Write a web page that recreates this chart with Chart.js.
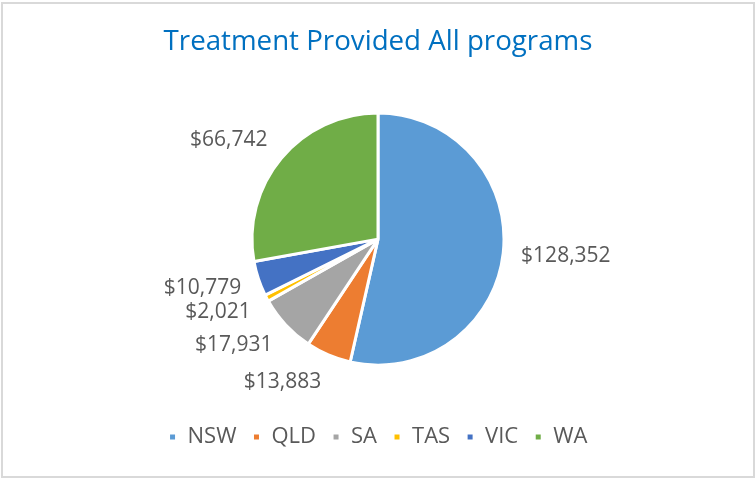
<!DOCTYPE html>
<html>
<head>
<meta charset="utf-8">
<script src="https://cdn.jsdelivr.net/npm/chart.js@4/dist/chart.umd.min.js"></script>
<style>
  body { margin: 0; background: #fff; }
  #quadro { position: relative; width: 756px; height: 479px; }
  #borda { position: absolute; left: 1px; top: 2px; width: 750px; height: 472px; border: 2px solid #d9d9d9; }
  #grafico { position: absolute; left: 0; top: 0; }
</style>
</head>
<body>
<div id="quadro">
  <div id="borda"></div>
  <canvas id="grafico" width="756" height="479"></canvas>
</div>
<script>
// Dados do gráfico
const estados = ['NSW', 'QLD', 'SA', 'TAS', 'VIC', 'WA'];
const valoresTratamento = [128352, 13883, 17931, 2021, 10779, 66742];
const coresEstados = ['#5B9BD5', '#ED7D31', '#A5A5A5', '#FFC000', '#4472C4', '#70AD47'];

const fonteTexto = "'Open Sans', 'DejaVu Sans', sans-serif";
const corTexto = '#595959';

function formatarDolar(valor) {
    return '$' + valor.toLocaleString('en-US');
}

// Plugin para desenhar os rótulos fora das fatias
const rotulosExternos = {
    id: 'rotulosExternos',
    afterDatasetsDraw(chart) {
        const ctx = chart.ctx;
        const meta = chart.getDatasetMeta(0);
        ctx.save();
        ctx.font = "21px " + fonteTexto;
        ctx.fillStyle = corTexto;
        ctx.textBaseline = 'middle';
        meta.data.forEach((arco, i) => {
            const p = arco.getProps(['x', 'y', 'startAngle', 'endAngle', 'outerRadius'], true);
            const meio = (p.startAngle + p.endAngle) / 2;
            const raio = p.outerRadius + 18;
            const cosA = Math.cos(meio), senA = Math.sin(meio);
            const texto = formatarDolar(chart.data.datasets[0].data[i]);
            const x = p.x + cosA * raio;
            const y = p.y + senA * raio + senA * 11;
            ctx.textAlign = cosA >= 0 ? 'left' : 'right';
            ctx.fillText(texto, x, y);
        });
        ctx.restore();
    }
};

new Chart(document.getElementById('grafico').getContext('2d'), {
    type: 'pie',
    data: {
        labels: estados,
        datasets: [{
            data: valoresTratamento,
            backgroundColor: coresEstados,
            borderColor: '#ffffff',
            borderWidth: 3,
            radius: 126
        }]
    },
    options: {
        responsive: false,
        animation: false,
        layout: { padding: { bottom: 21 } },
        plugins: {
            title: {
                display: true,
                text: 'Treatment Provided All programs',
                color: '#0070C0',
                font: { family: fonteTexto, size: 27.7, weight: 'normal' },
                padding: { top: 25, bottom: 10 }
            },
            legend: {
                position: 'bottom',
                labels: {
                    color: corTexto,
                    font: { family: fonteTexto, size: 22 },
                    boxWidth: 8,
                    boxHeight: 8,
                    padding: 16
                }
            },
            tooltip: { enabled: false }
        }
    },
    plugins: [rotulosExternos]
});
</script>
</body>
</html>
